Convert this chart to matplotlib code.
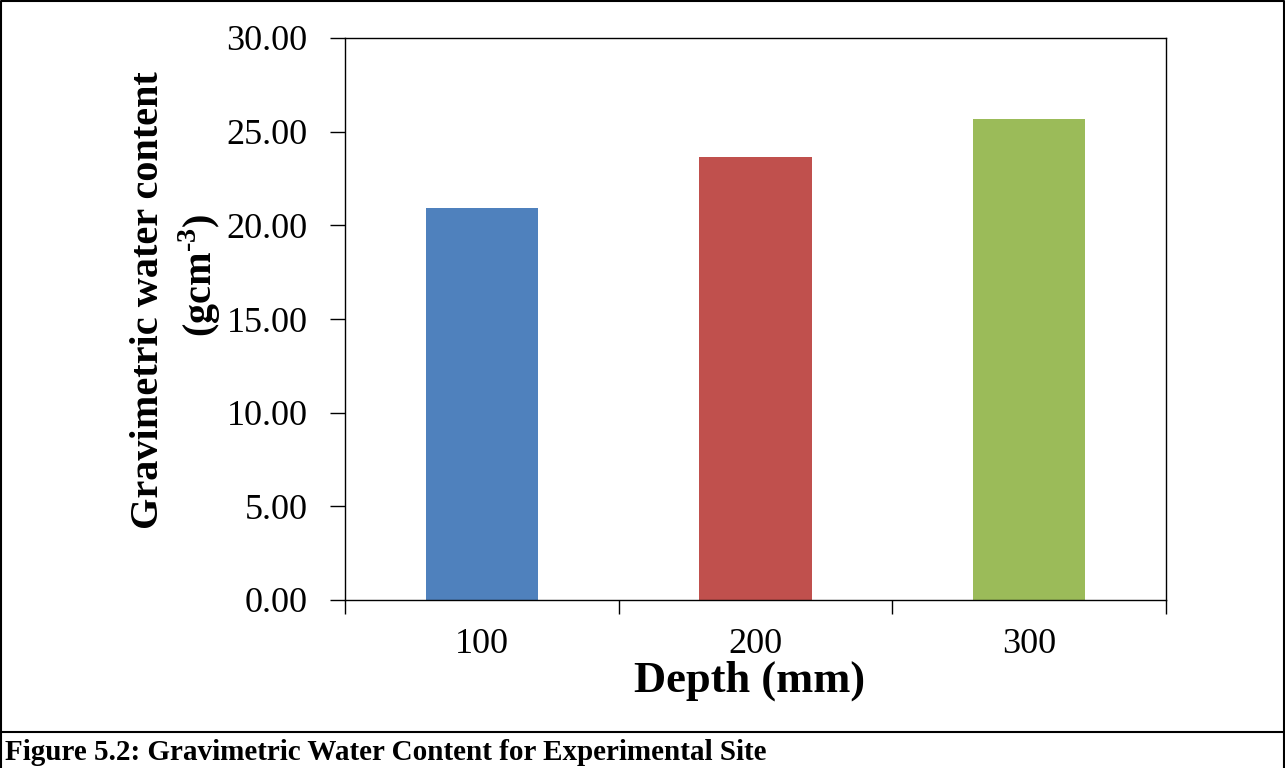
import matplotlib
matplotlib.use("Agg")
import matplotlib.pyplot as plt
from matplotlib.lines import Line2D
import numpy as np

categories = ["100", "200", "300"]
values = [20.95, 23.65, 25.70]
colors = ["#4F81BD", "#C0504D", "#9BBB59"]
yticks = [0, 5, 10, 15, 20, 25, 30]

plt.rcParams['font.family'] = ['Liberation Serif', 'DejaVu Serif']
plt.rcParams['mathtext.fontset'] = 'custom'
plt.rcParams['mathtext.rm'] = 'Liberation Serif:bold'
plt.rcParams['mathtext.bf'] = 'Liberation Serif:bold'

W, H = 1285, 768
fig = plt.figure(figsize=(W/100, H/100), dpi=100)
ax = fig.add_axes([345/W, 1 - 600/H, (1166-345)/W, (600-38)/H])

x = np.arange(len(categories))
ax.bar(x, values, width=0.41, color=colors, zorder=2)
ax.set_xlim(-0.5, len(categories) - 0.5)
ax.set_ylim(0, 30)
ax.set_yticks(yticks)
ax.set_yticklabels([f"{v:.2f}" for v in yticks], fontsize=26)
ax.set_xticks(x)
ax.set_xticklabels(categories, fontsize=26)
ax.set_xticks(np.arange(len(categories) + 1) - 0.5, minor=True)
ax.tick_params(axis='x', which='major', length=0, pad=20)
ax.tick_params(axis='x', which='minor', length=10, width=1, direction='out')
ax.tick_params(axis='y', which='major', length=11, width=1, direction='out', pad=16)
for s in ax.spines.values():
    s.set_linewidth(1)
    s.set_color('black')

fig.text(750/W, 1 - 692/H, "Depth (mm)", fontsize=32, fontweight='bold',
         ha='center', va='baseline')
fig.text(158/W, 1 - 300/H, "Gravimetric water content",
         fontsize=29, fontweight='bold', rotation=90, rotation_mode='anchor',
         ha='center', va='baseline')
fig.text(212/W, 1 - 275/H, "(gcm$^{\\text{-3}}$)",
         fontsize=29, fontweight='bold', rotation=90, rotation_mode='anchor',
         ha='center', va='baseline')

fig.text(5/W, 1 - 760/H, "Figure 5.2: Gravimetric Water Content for Experimental Site",
         fontsize=21, fontweight='bold', ha='left', va='baseline')

# figure border and separator
fig.add_artist(Line2D([1/W, 1/W, 1 - 1/W, 1 - 1/W],
                      [0, 1 - 1/H, 1 - 1/H, 0],
                      transform=fig.transFigure, color='black', lw=1.5))
fig.add_artist(Line2D([0, 1], [1 - 732/H, 1 - 732/H],
                      transform=fig.transFigure, color='black', lw=1.5))

fig.savefig("out.png", dpi=100)
